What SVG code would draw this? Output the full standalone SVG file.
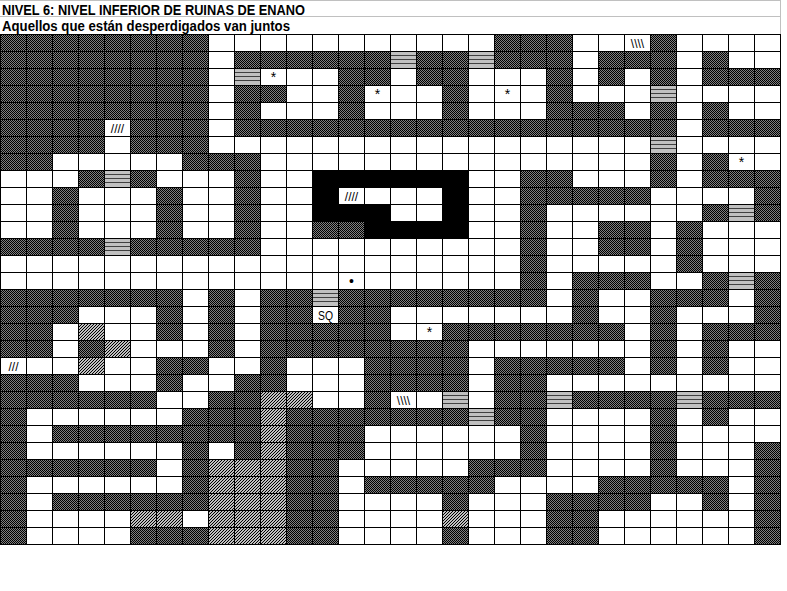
<svg xmlns="http://www.w3.org/2000/svg" xmlns:xlink="http://www.w3.org/1999/xlink" width="787" height="591" viewBox="0 0 787 591">
<style>
.hdr{font-family:"Liberation Sans",Arial,sans-serif;font-weight:bold;font-size:14px;fill:#000}
.lbl{font-family:"Liberation Sans",Arial,sans-serif;font-size:12px;fill:#000;text-anchor:middle}
.ast{font-size:14px}
.grid{fill:none;stroke:#000;stroke-width:1}
.hline{fill:none;stroke:#c0c0c0;stroke-width:1}
</style>
<defs>
<pattern id="dk" width="2" height="2" patternUnits="userSpaceOnUse">
<rect width="2" height="2" fill="#808080"/>
<rect width="1" height="1" fill="#000"/>
<rect x="1" y="1" width="1" height="1" fill="#000"/>
</pattern>
<pattern id="ht" width="3" height="3" patternUnits="userSpaceOnUse">
<rect width="3" height="3" fill="#c0c0c0"/>
<rect x="2" y="0" width="1" height="1" fill="#000"/>
<rect x="1" y="1" width="1" height="1" fill="#000"/>
<rect x="0" y="2" width="1" height="1" fill="#000"/>
</pattern>
<g id="st">
<rect width="26" height="17" fill="#c0c0c0"/>
<path d="M0 4.5h26M0 8.5h26M0 12.5h26" stroke="#404040" stroke-width="1"/>
</g>
</defs>
<rect width="787" height="591" fill="#fff"/>
<g id="header">
<path class="hline" d="M0 0.5h781M0 16.5h781M780.5 0v34"/>
<text class="hdr" x="2" y="15" textLength="303" lengthAdjust="spacingAndGlyphs">NIVEL 6: NIVEL INFERIOR DE RUINAS DE ENANO</text>
<text class="hdr" x="2" y="30.5" textLength="288" lengthAdjust="spacingAndGlyphs">Aquellos que están desperdigados van juntos</text>
</g>
<g id="map" transform="translate(0,34)">
<path id="dark" fill="url(#dk)" d="
M0 0h208v17h-208zM494 0h78v17h-78zM650 0h26v17h-26z
M0 17h208v17h-208zM234 17h156v17h-156zM416 17h52v17h-52zM494 17h78v17h-78zM598 17h78v17h-78zM702 17h26v17h-26z
M0 34h208v17h-208zM338 34h52v17h-52zM416 34h52v17h-52zM546 34h26v17h-26zM598 34h26v17h-26zM650 34h26v17h-26zM702 34h78v17h-78z
M0 51h208v17h-208zM234 51h52v17h-52zM338 51h26v17h-26zM442 51h26v17h-26zM546 51h26v17h-26z
M0 68h208v17h-208zM234 68h26v17h-26zM338 68h26v17h-26zM442 68h26v17h-26zM546 68h78v17h-78zM650 68h26v17h-26zM702 68h26v17h-26z
M0 85h104v17h-104zM130 85h78v17h-78zM234 85h442v17h-442zM702 85h78v17h-78z
M0 102h104v17h-104zM130 102h78v17h-78z
M0 119h52v17h-52zM182 119h78v17h-78zM650 119h26v17h-26zM702 119h26v17h-26z
M78 136h26v17h-26zM130 136h26v17h-26zM234 136h26v17h-26zM520 136h52v17h-52zM650 136h26v17h-26zM702 136h78v17h-78z
M52 153h26v17h-26zM156 153h26v17h-26zM234 153h26v17h-26zM520 153h130v17h-130zM754 153h26v17h-26z
M52 170h26v17h-26zM156 170h26v17h-26zM234 170h26v17h-26zM520 170h26v17h-26zM702 170h26v17h-26zM754 170h26v17h-26z
M52 187h26v17h-26zM156 187h26v17h-26zM234 187h26v17h-26zM312 187h52v17h-52zM520 187h26v17h-26zM598 187h52v17h-52zM676 187h26v17h-26z
M0 204h104v17h-104zM130 204h130v17h-130zM520 204h26v17h-26zM598 204h52v17h-52zM676 204h26v17h-26z
M520 221h26v17h-26zM676 221h26v17h-26z
M520 238h26v17h-26zM572 238h78v17h-78zM702 238h26v17h-26zM754 238h26v17h-26z
M0 255h182v17h-182zM208 255h26v17h-26zM260 255h52v17h-52zM338 255h208v17h-208zM572 255h26v17h-26zM650 255h78v17h-78zM754 255h26v17h-26z
M0 272h78v17h-78zM156 272h26v17h-26zM208 272h26v17h-26zM260 272h52v17h-52zM338 272h52v17h-52zM572 272h26v17h-26zM650 272h26v17h-26zM754 272h26v17h-26z
M0 289h52v17h-52zM156 289h26v17h-26zM208 289h26v17h-26zM260 289h130v17h-130zM442 289h182v17h-182zM650 289h26v17h-26zM702 289h78v17h-78z
M0 306h52v17h-52zM78 306h26v17h-26zM208 306h26v17h-26zM260 306h208v17h-208zM650 306h26v17h-26zM702 306h26v17h-26z
M156 323h52v17h-52zM260 323h26v17h-26zM364 323h104v17h-104zM494 323h130v17h-130zM650 323h26v17h-26zM702 323h26v17h-26z
M0 340h78v17h-78zM156 340h26v17h-26zM234 340h52v17h-52zM364 340h104v17h-104zM494 340h52v17h-52z
M0 357h156v17h-156zM208 357h52v17h-52zM364 357h26v17h-26zM494 357h52v17h-52zM572 357h104v17h-104zM702 357h78v17h-78z
M0 374h26v17h-26zM182 374h78v17h-78zM286 374h182v17h-182zM494 374h52v17h-52zM650 374h26v17h-26zM702 374h26v17h-26z
M0 391h26v17h-26zM52 391h208v17h-208zM286 391h78v17h-78zM520 391h26v17h-26zM650 391h26v17h-26z
M0 408h26v17h-26zM182 408h26v17h-26zM234 408h26v17h-26zM286 408h78v17h-78zM520 408h26v17h-26zM650 408h26v17h-26zM754 408h26v17h-26z
M0 425h156v17h-156zM182 425h26v17h-26zM286 425h52v17h-52zM468 425h78v17h-78zM650 425h26v17h-26zM754 425h26v17h-26z
M0 442h26v17h-26zM182 442h26v17h-26zM286 442h52v17h-52zM364 442h130v17h-130zM598 442h130v17h-130zM754 442h26v17h-26z
M0 459h26v17h-26zM52 459h156v17h-156zM286 459h52v17h-52zM442 459h26v17h-26zM546 459h104v17h-104zM702 459h26v17h-26zM754 459h26v17h-26z
M0 476h26v17h-26zM286 476h52v17h-52zM546 476h52v17h-52zM754 476h26v17h-26z
M0 493h26v17h-26zM130 493h78v17h-78zM286 493h52v17h-52zM442 493h26v17h-26zM546 493h52v17h-52zM754 493h26v17h-26z"/>
<path id="black" fill="#000" d="M312 136h156v17h-156zM312 153h26v17h-26zM442 153h26v17h-26zM312 170h78v17h-78zM442 170h26v17h-26zM364 187h104v17h-104z"/>
<path id="hatched" fill="url(#ht)" d="M260 357h26v153h-26zM286 357h26v17h-26zM208 425h52v85h-52zM130 476h52v17h-52zM442 476h26v17h-26zM78 289h26v17h-26zM104 306h26v17h-26zM78 323h26v17h-26z"/>
<g id="stairs">
<use xlink:href="#st" x="390" y="17"/>
<use xlink:href="#st" x="468" y="17"/>
<use xlink:href="#st" x="234" y="34"/>
<use xlink:href="#st" x="650" y="51"/>
<use xlink:href="#st" x="650" y="102"/>
<use xlink:href="#st" x="104" y="136"/>
<use xlink:href="#st" x="728" y="170"/>
<use xlink:href="#st" x="104" y="204"/>
<use xlink:href="#st" x="728" y="238"/>
<use xlink:href="#st" x="312" y="255"/>
<use xlink:href="#st" x="442" y="357"/>
<use xlink:href="#st" x="546" y="357"/>
<use xlink:href="#st" x="676" y="357"/>
<use xlink:href="#st" x="468" y="374"/>
</g>
<path class="grid" d="M0.5 0v511M26.5 0v511M52.5 0v511M78.5 0v511M104.5 0v511M130.5 0v511M156.5 0v511M182.5 0v511M208.5 0v511M234.5 0v511M260.5 0v511M286.5 0v511M312.5 0v511M338.5 0v511M364.5 0v511M390.5 0v511M416.5 0v511M442.5 0v511M468.5 0v511M494.5 0v511M520.5 0v511M546.5 0v511M572.5 0v511M598.5 0v511M624.5 0v511M650.5 0v511M676.5 0v511M702.5 0v511M728.5 0v511M754.5 0v511M780.5 0v511
M0 0.5h781M0 17.5h781M0 34.5h781M0 51.5h781M0 68.5h781M0 85.5h781M0 102.5h781M0 119.5h781M0 136.5h781M0 153.5h781M0 170.5h781M0 187.5h781M0 204.5h781M0 221.5h781M0 238.5h781M0 255.5h781M0 272.5h781M0 289.5h781M0 306.5h781M0 323.5h781M0 340.5h781M0 357.5h781M0 374.5h781M0 391.5h781M0 408.5h781M0 425.5h781M0 442.5h781M0 459.5h781M0 476.5h781M0 493.5h781M0 510.5h781"/>
<g id="labels">
<text class="lbl" x="637.5" y="13.5">\\\\</text>
<text class="lbl ast" x="273.5" y="48">*</text>
<text class="lbl ast" x="377.5" y="65">*</text>
<text class="lbl ast" x="507.5" y="65">*</text>
<text class="lbl" x="117.5" y="98.5">////</text>
<text class="lbl ast" x="741.5" y="133">*</text>
<text class="lbl" x="351.5" y="166.5">////</text>
<text class="lbl" x="351.5" y="251.5" style="font-size:14px">•</text>
<text class="lbl" x="325.5" y="285.5" textLength="15" lengthAdjust="spacingAndGlyphs">SQ</text>
<text class="lbl ast" x="429.5" y="303">*</text>
<text class="lbl" x="13.5" y="336.5">///</text>
<text class="lbl" x="403.5" y="370.5">\\\\</text>
</g>
</g>
</svg>
